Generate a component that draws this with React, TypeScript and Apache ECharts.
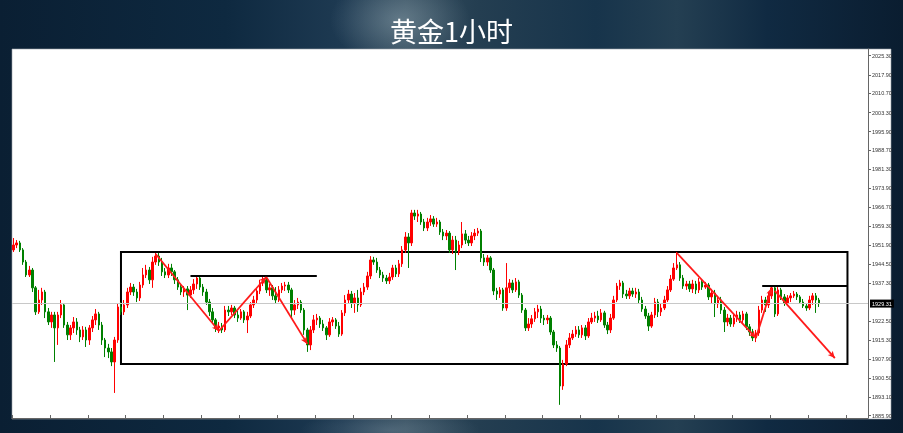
import React, { useEffect, useRef } from "react";
import * as echarts from "echarts";

const TITLE = "黄金1小时";
const FIRST_OPEN = 1950.1;
const CATEGORY_COUNT = 271;

const CLOSES = [
  1952.0, 1952.8, 1950.1, 1945.4, 1940.4, 1942.3, 1935.4, 1926.1, 1930.7, 1933.8,
  1926.1, 1922.2, 1924.9, 1919.9, 1924.9, 1928.8, 1921.0, 1917.2, 1919.9, 1922.2,
  1919.1, 1916.4, 1919.1, 1915.2, 1919.9, 1923.0, 1925.3, 1921.0, 1915.2, 1912.1,
  1910.6, 1906.7, 1915.2, 1928.0, 1926.1, 1928.8, 1933.8, 1935.7, 1933.8, 1931.5,
  1936.5, 1940.4, 1942.3, 1938.5, 1945.4, 1947.7, 1945.4, 1941.6, 1940.4, 1943.1,
  1941.6, 1938.5, 1935.7, 1933.8, 1935.0, 1932.6, 1934.6, 1936.9, 1939.2, 1935.7,
  1933.8, 1929.9, 1926.1, 1923.0, 1919.9, 1920.6, 1919.1, 1926.8, 1926.1, 1927.6,
  1924.9, 1923.7, 1926.1, 1923.0, 1924.5, 1928.8, 1930.7, 1934.2, 1937.3, 1938.5,
  1934.6, 1935.4, 1932.3, 1930.7, 1934.6, 1936.1, 1936.5, 1934.6, 1926.8, 1928.8,
  1929.9, 1926.8, 1919.1, 1913.3, 1919.1, 1923.0, 1923.7, 1921.4, 1919.9, 1917.2,
  1922.2, 1923.0, 1920.6, 1917.5, 1925.7, 1930.7, 1933.0, 1929.5, 1931.5, 1928.8,
  1933.8, 1935.7, 1940.0, 1946.2, 1945.4, 1942.3, 1940.4, 1939.2, 1938.1, 1939.6,
  1943.1, 1940.8, 1944.7, 1950.1, 1955.1, 1952.8, 1964.4, 1963.2, 1964.0, 1960.9,
  1958.6, 1960.9, 1962.1, 1960.1, 1960.9, 1957.0, 1955.5, 1956.6, 1950.1, 1953.9,
  1949.3, 1952.0, 1956.3, 1953.9, 1952.8, 1955.5, 1956.6, 1957.4, 1947.0, 1945.4,
  1947.0, 1942.3, 1934.2, 1933.0, 1934.6, 1927.6, 1935.4, 1937.3, 1934.6, 1937.7,
  1932.6, 1926.8, 1919.9, 1921.4, 1923.4, 1926.1, 1927.2, 1923.7, 1923.0, 1923.7,
  1918.3, 1913.3, 1912.1, 1897.4, 1905.9, 1913.3, 1916.0, 1917.5, 1919.1, 1917.2,
  1919.9, 1916.8, 1922.2, 1923.7, 1924.5, 1923.0, 1925.7, 1921.0, 1919.1, 1923.7,
  1930.7, 1936.1, 1937.3, 1933.0, 1932.3, 1934.2, 1933.0, 1933.8, 1930.7, 1927.2,
  1924.5, 1920.6, 1924.9, 1929.9, 1926.1, 1927.6, 1930.7, 1934.6, 1938.8, 1943.1,
  1944.3, 1939.2, 1936.1, 1936.9, 1935.0, 1936.9, 1934.6, 1937.7, 1935.7, 1936.5,
  1931.9, 1933.4, 1929.2, 1930.7, 1926.8, 1922.2, 1923.7, 1921.4, 1923.7, 1924.9,
  1923.0, 1925.3, 1920.3, 1918.3, 1916.0, 1917.9, 1926.8, 1930.7, 1928.8, 1932.3,
  1935.4, 1925.3, 1934.6, 1931.9, 1929.5, 1931.5, 1932.3, 1933.0, 1931.9, 1929.9,
  1928.4, 1927.6, 1930.7, 1932.3, 1930.7, 1929.31,
];

const HIGHS = [
  1954.7, 1953.9, 1953.6, 1950.8, 1946.2, 1943.9, 1943.1, 1936.1, 1934.6, 1935.4,
  1934.6, 1927.6, 1926.1, 1926.1, 1926.1, 1930.7, 1929.5, 1922.2, 1921.0, 1924.1,
  1923.7, 1920.3, 1920.6, 1920.3, 1921.0, 1924.5, 1927.2, 1926.1, 1922.2, 1916.0,
  1913.7, 1912.1, 1916.4, 1929.5, 1929.9, 1930.7, 1935.4, 1937.3, 1936.9, 1935.0,
  1937.7, 1943.1, 1944.3, 1943.5, 1947.4, 1948.9, 1948.9, 1947.0, 1943.1, 1944.7,
  1944.7, 1942.3, 1939.6, 1936.9, 1936.1, 1936.1, 1936.1, 1938.8, 1940.0, 1940.0,
  1936.9, 1935.0, 1931.1, 1927.6, 1923.7, 1922.2, 1921.8, 1928.4, 1928.4, 1928.8,
  1928.4, 1926.5, 1927.2, 1926.8, 1926.1, 1929.9, 1932.3, 1935.4, 1938.5, 1939.6,
  1939.6, 1936.9, 1936.5, 1935.7, 1936.1, 1937.3, 1937.7, 1937.7, 1935.4, 1930.7,
  1931.5, 1930.7, 1927.6, 1919.9, 1920.6, 1924.9, 1925.3, 1924.5, 1923.0, 1920.6,
  1923.7, 1924.1, 1923.7, 1922.2, 1926.8, 1932.6, 1934.6, 1934.2, 1933.4, 1934.6,
  1935.4, 1937.3, 1941.6, 1947.7, 1947.4, 1947.0, 1943.5, 1941.6, 1940.4, 1941.2,
  1944.3, 1944.3, 1946.2, 1951.6, 1957.0, 1956.6, 1965.6, 1965.6, 1965.6, 1964.8,
  1962.1, 1962.5, 1963.6, 1963.2, 1962.5, 1961.7, 1958.2, 1957.8, 1957.4, 1955.5,
  1955.5, 1953.6, 1960.9, 1957.8, 1955.5, 1957.0, 1958.2, 1958.6, 1958.2, 1948.5,
  1948.1, 1947.7, 1943.1, 1935.4, 1935.7, 1935.4, 1945.0, 1938.8, 1938.5, 1939.2,
  1938.5, 1933.4, 1927.6, 1923.7, 1924.9, 1927.6, 1928.8, 1928.4, 1924.9, 1924.9,
  1924.5, 1919.1, 1914.8, 1912.9, 1907.5, 1915.2, 1917.9, 1919.1, 1920.6, 1920.6,
  1921.0, 1921.0, 1923.7, 1925.7, 1926.1, 1926.5, 1927.2, 1926.5, 1922.2, 1925.3,
  1932.3, 1937.3, 1938.5, 1938.1, 1934.6, 1935.4, 1935.4, 1935.4, 1935.0, 1931.9,
  1928.4, 1925.7, 1926.1, 1931.5, 1931.1, 1929.5, 1932.3, 1936.1, 1940.4, 1945.0,
  1949.3, 1945.4, 1940.4, 1938.1, 1938.1, 1938.5, 1938.1, 1939.2, 1938.8, 1937.7,
  1937.3, 1935.0, 1934.6, 1932.3, 1931.9, 1928.0, 1925.3, 1924.9, 1925.3, 1926.5,
  1926.1, 1926.5, 1926.1, 1921.4, 1919.5, 1919.1, 1928.4, 1932.3, 1931.9, 1933.8,
  1936.1, 1936.5, 1935.7, 1935.4, 1933.0, 1932.6, 1933.4, 1934.2, 1933.8, 1932.6,
  1931.1, 1929.5, 1932.3, 1933.4, 1933.4, 1931.5,
];

const LOWS = [
  1949.3, 1950.8, 1949.3, 1944.3, 1939.6, 1939.6, 1933.8, 1924.9, 1925.3, 1928.8,
  1923.7, 1921.0, 1919.9, 1906.7, 1913.3, 1923.7, 1919.9, 1915.2, 1915.2, 1917.9,
  1917.2, 1914.4, 1915.2, 1912.5, 1913.3, 1918.3, 1921.0, 1919.1, 1913.3, 1908.6,
  1908.2, 1905.1, 1894.7, 1914.1, 1924.9, 1924.9, 1927.6, 1932.6, 1932.3, 1929.9,
  1930.3, 1935.4, 1939.2, 1936.9, 1935.4, 1944.3, 1943.9, 1940.0, 1939.2, 1939.2,
  1940.0, 1936.9, 1934.6, 1932.6, 1931.9, 1926.8, 1931.5, 1933.0, 1935.0, 1934.6,
  1932.3, 1928.8, 1924.5, 1921.4, 1918.3, 1917.9, 1917.9, 1918.3, 1924.5, 1924.9,
  1923.7, 1922.2, 1923.0, 1921.8, 1917.9, 1923.7, 1927.6, 1929.5, 1933.0, 1936.1,
  1933.4, 1932.3, 1930.7, 1929.2, 1929.9, 1933.4, 1934.2, 1933.4, 1924.1, 1924.9,
  1927.2, 1925.7, 1917.2, 1910.6, 1911.3, 1917.9, 1921.0, 1919.9, 1918.7, 1915.2,
  1916.4, 1920.6, 1919.5, 1916.4, 1916.8, 1924.5, 1929.5, 1927.6, 1925.7, 1926.1,
  1928.0, 1932.6, 1934.6, 1938.8, 1944.3, 1941.2, 1939.2, 1937.7, 1936.9, 1936.9,
  1938.5, 1939.6, 1939.6, 1943.5, 1948.9, 1943.1, 1951.6, 1961.7, 1960.9, 1959.8,
  1957.4, 1957.4, 1959.4, 1959.0, 1959.0, 1955.9, 1953.9, 1953.9, 1948.9, 1948.5,
  1942.3, 1948.1, 1950.8, 1952.4, 1951.6, 1951.6, 1953.9, 1955.5, 1945.4, 1943.9,
  1943.9, 1941.2, 1932.6, 1930.7, 1931.5, 1926.5, 1926.5, 1933.4, 1933.4, 1933.8,
  1931.5, 1925.7, 1918.7, 1918.7, 1919.9, 1922.2, 1923.7, 1921.8, 1921.0, 1921.4,
  1917.2, 1912.1, 1910.6, 1890.1, 1895.9, 1905.1, 1912.1, 1915.2, 1916.4, 1916.0,
  1916.0, 1915.2, 1916.0, 1921.4, 1922.2, 1921.8, 1922.2, 1919.9, 1917.5, 1917.9,
  1923.0, 1929.9, 1934.6, 1931.5, 1931.1, 1931.1, 1931.9, 1931.5, 1929.2, 1926.1,
  1923.4, 1918.7, 1919.9, 1923.7, 1924.1, 1924.5, 1926.8, 1929.9, 1933.8, 1938.1,
  1942.3, 1938.1, 1935.0, 1934.6, 1933.8, 1933.4, 1933.0, 1933.4, 1934.6, 1935.0,
  1930.7, 1929.5, 1924.1, 1927.6, 1925.3, 1918.3, 1920.6, 1920.3, 1920.3, 1922.2,
  1921.8, 1921.8, 1919.1, 1916.8, 1914.8, 1914.4, 1916.8, 1925.7, 1926.1, 1927.6,
  1931.1, 1924.1, 1924.5, 1930.7, 1928.4, 1928.4, 1929.9, 1931.5, 1930.7, 1929.2,
  1927.6, 1926.5, 1926.8, 1928.8, 1925.7, 1928.0,
];

const Y_TICKS = [
  2025.3, 2017.9, 2010.7, 2003.3, 1995.9, 1988.7, 1981.3, 1973.9, 1966.7, 1959.3,
  1951.9, 1944.5, 1937.3, 1922.5, 1915.3, 1907.9, 1900.5, 1893.1, 1885.9,
];
const CURRENT_PRICE = 1929.31;

// annotations in data space: [category index, price]
const RANGE_BOX = { from: 34, to: 264, top: 1949.3, bottom: 1905.9 };
const LEVELS = [
  { from: 56, to: 96, price: 1940.0 },
  { from: 237, to: 264, price: 1936.1 },
];
const ARROWS = [
  [45, 1948.5, 65, 1918.7],
  [65, 1918.7, 80, 1939.6],
  [80, 1939.6, 93, 1913.7],
  [210, 1948.9, 235, 1916.0],
  [235, 1916.0, 240, 1935.4],
  [241, 1934.2, 260, 1908.2],
];

export default function App() {
  const ref = useRef<HTMLDivElement>(null);
  useEffect(() => {
    const chart = echarts.init(ref.current!, null, { renderer: "svg" });
    const categories = Array.from({ length: CATEGORY_COUNT }, (_, i) => String(i));
    const candles = CLOSES.map((c, i) => [
      i === 0 ? FIRST_OPEN : CLOSES[i - 1],
      c,
      LOWS[i],
      HIGHS[i],
    ]);
    const markLines: any[] = [
      {
        yAxis: CURRENT_PRICE,
        symbol: "none",
        lineStyle: { color: "#c8c8c8", width: 1, type: "solid" },
        label: {
          show: true,
          position: "end",
          distance: 2,
          formatter: CURRENT_PRICE.toFixed(2),
          backgroundColor: "#000",
          color: "#fff",
          fontSize: 5.5,
          fontFamily: "Liberation Sans",
          padding: [1, 2, 1, 2],
        },
      },
    ];
    LEVELS.forEach((l) => {
      markLines.push([
        { coord: [l.from, l.price], symbol: "none", lineStyle: { color: "#000", width: 2, type: "solid" } },
        { coord: [l.to, l.price], symbol: "none" },
      ]);
    });
    ARROWS.forEach((a) => {
      markLines.push([
        { coord: [a[0], a[1]], symbol: "none", lineStyle: { color: "#ff1a1a", width: 1.8, type: "solid" } },
        { coord: [a[2], a[3]], symbol: "arrow", symbolSize: [5, 7] },
      ]);
    });

    const option: any = {
      animation: false,
      title: {
        text: TITLE,
        left: "center",
        top: 12,
        textStyle: {
          color: "#ffffff",
          fontSize: 27,
          fontWeight: "normal",
          fontFamily: "Noto Sans CJK SC",
        },
      },
      graphic: {
        elements: [
          {
            type: "rect",
            z: -3,
            shape: { x: 0, y: 0, width: 903, height: 433 },
            style: {
              fill: new echarts.graphic.LinearGradient(0, 0, 1, 0, [
                { offset: 0, color: "#0a1f33" },
                { offset: 0.25, color: "#0e2940" },
                { offset: 0.38, color: "#1e3a52" },
                { offset: 0.45, color: "#344d5e" },
                { offset: 0.53, color: "#243e51" },
                { offset: 0.66, color: "#17344b" },
                { offset: 0.75, color: "#243f52" },
                { offset: 0.85, color: "#102a42" },
                { offset: 1, color: "#0a1d30" },
              ]),
            },
          },
          {
            type: "ellipse",
            z: -2,
            shape: { cx: 400, cy: 20, rx: 70, ry: 45 },
            style: {
              fill: new echarts.graphic.RadialGradient(0.5, 0.5, 0.5, [
                { offset: 0, color: "rgba(170,190,200,0.4)" },
                { offset: 1, color: "rgba(170,190,200,0)" },
              ]),
            },
          },
          {
            type: "ellipse",
            z: -2,
            shape: { cx: 390, cy: 430, rx: 90, ry: 20 },
            style: {
              fill: new echarts.graphic.RadialGradient(0.5, 0.5, 0.5, [
                { offset: 0, color: "rgba(150,170,185,0.3)" },
                { offset: 1, color: "rgba(150,170,185,0)" },
              ]),
            },
          },
          {
            type: "rect",
            z: -1,
            shape: { x: 12, y: 49, width: 879, height: 370 },
            style: { fill: "#ffffff", stroke: "#9aa3aa", lineWidth: 0.6 },
          },
        ],
      },
      grid: { left: 12, right: 35, top: 49, bottom: 15 },
      xAxis: {
        type: "category",
        data: categories,
        boundaryGap: true,
        axisLine: { show: true, lineStyle: { color: "#666", width: 1 } },
        axisTick: { show: true, inside: true, length: 3, interval: 11, lineStyle: { color: "#666" } },
        axisLabel: { show: false },
        splitLine: { show: false },
      },
      yAxis: {
        type: "value",
        position: "right",
        min: 1885.0,
        max: 2027.9,
        scale: true,
        axisLine: { show: true, lineStyle: { color: "#666", width: 1 } },
        axisTick: { show: true, length: 3, customValues: Y_TICKS, lineStyle: { color: "#666" } },
        axisLabel: {
          show: true,
          customValues: Y_TICKS,
          margin: 4,
          fontSize: 5.5,
          color: "#333",
          fontFamily: "Liberation Sans",
          formatter: (v: number) => v.toFixed(2),
        },
        splitLine: { show: false },
      },
      series: [
        {
          type: "candlestick",
          data: candles,
          barWidth: 2,
          itemStyle: {
            color: "#ff0000",
            color0: "#008000",
            borderColor: "#ff0000",
            borderColor0: "#008000",
            borderWidth: 1,
          },
          markArea: {
            silent: true,
            itemStyle: { color: "rgba(0,0,0,0)", borderColor: "#000", borderWidth: 2 },
            label: { show: false },
            data: [[
              { coord: [RANGE_BOX.from, RANGE_BOX.top] },
              { coord: [RANGE_BOX.to, RANGE_BOX.bottom] },
            ]],
          },
          markLine: {
            silent: true,
            symbol: ["none", "none"],
            label: { show: false },
            emphasis: { disabled: true },
            data: markLines,
          },
        },
      ],
    };
    chart.setOption(option);
    return () => chart.dispose();
  }, []);
  return (
    <div
      ref={ref}
      style={{ position: "fixed", left: 0, top: 0, width: 903, height: 433 }}
    />
  );
}
